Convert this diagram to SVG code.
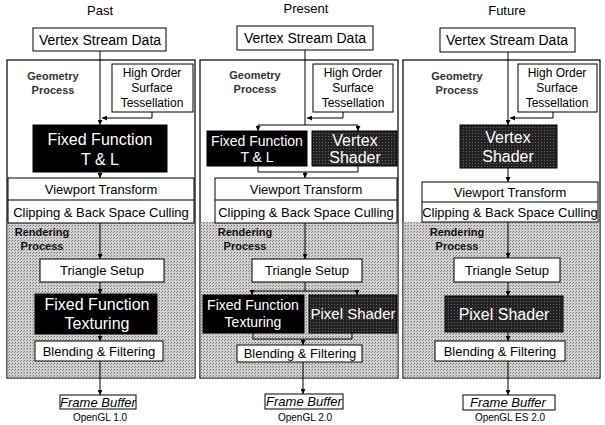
<svg xmlns="http://www.w3.org/2000/svg" width="605" height="425" viewBox="0 0 605 425">
<defs>
<marker id="ah" viewBox="0 0 6 6" refX="6" refY="3" markerWidth="5" markerHeight="5" orient="auto" markerUnits="userSpaceOnUse">
<path d="M0,0 L6,3 L0,6 Z" fill="#000"/>
</marker>
<pattern id="dots" width="3" height="3" patternUnits="userSpaceOnUse">
<rect width="3" height="3" fill="#d2d2d2"/>
<rect x="0" y="0" width="1" height="1" fill="#707070"/>
<rect x="2" y="1" width="1" height="1" fill="#909090"/>
</pattern>
<pattern id="dark" width="3" height="3" patternUnits="userSpaceOnUse">
<rect width="3" height="3" fill="#222"/>
<rect x="1" y="1" width="1" height="1" fill="#666"/>
</pattern>
</defs>
<style>
text{font-family:"Liberation Sans",Arial,sans-serif;text-anchor:middle;fill:#000}
.title{font-size:13px}
.box{fill:#fff;stroke:#000;stroke-width:1}
.outer{fill:#fff;stroke:#000;stroke-width:1.2}
.rend{fill:url(#dots);stroke:none}
.blk{fill:#000;stroke:#000}
.drk{fill:url(#dark);stroke:#000}
.t14{font-size:14px}
.t13{font-size:13px}
.t12{font-size:12px}
.wt{fill:#fff;font-size:15px}
.wt16{fill:#fff;font-size:16px}
.wt2{fill:#fff;font-size:14px}
.lbl{font-size:11px;font-weight:bold;fill:#333}
.lbl2{font-size:11px;font-weight:bold;fill:#111}
.fb{font-size:13px;font-style:italic}
.gl{font-size:10px}
.c{fill:none;stroke:#000;stroke-width:1}
.ca{fill:none;stroke:#000;stroke-width:1;marker-end:url(#ah)}
</style>

<!-- column backgrounds -->
<g id="past-frame">
<rect class="outer" x="7" y="60" width="188" height="318"/>
<rect class="rend" x="7.6" y="222" width="186.8" height="155.4"/>
<text class="title" x="100" y="15">Past</text>
<text class="lbl" x="53" y="80">Geometry</text>
<text class="lbl" x="53" y="94">Process</text>
<text class="lbl2" x="42" y="236">Rendering</text>
<text class="lbl2" x="42" y="250">Process</text>
<text class="gl" x="100" y="421">OpenGL 1.0</text>
</g>
<g id="present-frame">
<rect class="outer" x="200" y="60" width="198" height="318"/>
<rect class="rend" x="200.6" y="222" width="196.8" height="155.4"/>
<text class="title" x="306" y="13">Present</text>
<text class="lbl" x="255" y="79">Geometry</text>
<text class="lbl" x="255" y="93">Process</text>
<text class="lbl2" x="245" y="236">Rendering</text>
<text class="lbl2" x="245" y="250">Process</text>
<text class="gl" x="305" y="421">OpenGL 2.0</text>
</g>
<g id="future-frame">
<rect class="outer" x="403" y="60" width="197" height="318"/>
<rect class="rend" x="403.6" y="222" width="195.8" height="155.4"/>
<text class="title" x="507" y="15">Future</text>
<text class="lbl" x="457" y="80">Geometry</text>
<text class="lbl" x="457" y="94">Process</text>
<text class="lbl2" x="457" y="236">Rendering</text>
<text class="lbl2" x="457" y="250">Process</text>
<text class="gl" x="510" y="421">OpenGL ES 2.0</text>
</g>

<!-- connectors -->
<g id="connectors">
<!-- past -->
<path class="ca" d="M100,51 V125"/>
<path class="ca" d="M152,112 V118 H102"/>
<path class="ca" d="M100,172 V178"/>
<path class="ca" d="M100,223 V259"/>
<path class="ca" d="M100,282 V294"/>
<path class="ca" d="M100,334 V341"/>
<path class="ca" d="M100,361 V395"/>
<!-- present -->
<path class="c" d="M305,50 V125"/>
<path class="ca" d="M343,112 V118 H307"/>
<path class="c" d="M258,125 H358"/>
<path class="ca" d="M258,125 V131"/>
<path class="ca" d="M358,125 V131"/>
<path class="c" d="M258,166 V172 H358 V166"/>
<path class="ca" d="M305,172 V178"/>
<path class="ca" d="M305,223 V259"/>
<path class="c" d="M305,282 V291"/>
<path class="c" d="M252,291 H357"/>
<path class="ca" d="M252,291 V295"/>
<path class="ca" d="M357,291 V295"/>
<path class="c" d="M253,333 V339 H352 V333"/>
<path class="ca" d="M303,339 V345"/>
<path class="ca" d="M303,362 V394"/>
<!-- future -->
<path class="ca" d="M508,52 V125"/>
<path class="ca" d="M553,112 V118 H510"/>
<path class="ca" d="M508,168 V182"/>
<path class="ca" d="M508,222 V258"/>
<path class="ca" d="M508,282 V296"/>
<path class="ca" d="M508,332 V341"/>
<path class="ca" d="M508,361 V395"/>
</g>

<!-- past nodes -->
<g id="past-vsd"><rect class="box" x="33" y="28" width="133" height="23"/><text class="t14" x="100" y="45">Vertex Stream Data</text></g>
<g id="past-host"><rect class="box" x="112" y="64" width="81" height="48"/><text class="t12" x="152" y="77">High Order</text><text class="t12" x="152" y="92">Surface</text><text class="t12" x="152" y="107">Tessellation</text></g>
<g id="past-fftl"><rect class="blk" x="33" y="125" width="134" height="47"/><text class="wt16" x="100" y="145">Fixed Function</text><text class="wt16" x="100" y="165">T &amp; L</text></g>
<g id="past-vp"><rect class="box" x="8" y="178" width="186" height="45"/><line x1="8" y1="200" x2="194" y2="200" stroke="#000"/><text class="t13" x="101" y="194">Viewport Transform</text><text class="t13" x="101" y="217">Clipping &amp; Back Space Culling</text></g>
<g id="past-ts"><rect class="box" x="40" y="259" width="124" height="23"/><text class="t13" x="102" y="275">Triangle Setup</text></g>
<g id="past-fft"><rect class="blk" x="35" y="294" width="122" height="40"/><text class="wt16" x="97" y="310">Fixed Function</text><text class="wt16" x="97" y="329">Texturing</text></g>
<g id="past-bf"><rect class="box" x="35" y="341" width="128" height="20"/><text class="t13" x="99" y="356">Blending &amp; Filtering</text></g>
<g id="past-fb"><rect class="box" x="60" y="395" width="76" height="14"/><text class="fb" x="98" y="407">Frame Buffer</text></g>

<!-- present nodes -->
<g id="present-vsd"><rect class="box" x="237" y="26" width="136" height="24"/><text class="t14" x="305" y="43">Vertex Stream Data</text></g>
<g id="present-host"><rect class="box" x="313" y="64" width="80" height="48"/><text class="t12" x="353" y="77">High Order</text><text class="t12" x="353" y="92">Surface</text><text class="t12" x="353" y="107">Tessellation</text></g>
<g id="present-fftl"><rect class="blk" x="207" y="131" width="100" height="35"/><text class="wt2" x="257" y="146">Fixed Function</text><text class="wt2" x="257" y="162">T &amp; L</text></g>
<g id="present-vs"><rect class="drk" x="312" y="131" width="85" height="35"/><text class="wt16" x="355" y="146">Vertex</text><text class="wt16" x="355" y="163">Shader</text></g>
<g id="present-vp"><rect class="box" x="215" y="178" width="182" height="45"/><line x1="215" y1="200" x2="397" y2="200" stroke="#000"/><text class="t13" x="306" y="194">Viewport Transform</text><text class="t13" x="306" y="217">Clipping &amp; Back Space Culling</text></g>
<g id="present-ts"><rect class="box" x="252" y="259" width="110" height="23"/><text class="t13" x="307" y="275">Triangle Setup</text></g>
<g id="present-fft"><rect class="blk" x="203" y="295" width="101" height="38"/><text class="wt2" x="253" y="310">Fixed Function</text><text class="wt2" x="253" y="327">Texturing</text></g>
<g id="present-ps"><rect class="drk" x="309" y="295" width="88" height="38"/><text class="wt" x="353" y="319">Pixel Shader</text></g>
<g id="present-bf"><rect class="box" x="237" y="345" width="125" height="17"/><text class="t13" x="300" y="358">Blending &amp; Filtering</text></g>
<g id="present-fb"><rect class="box" x="265" y="394" width="78" height="15"/><text class="fb" x="304" y="406">Frame Buffer</text></g>

<!-- future nodes -->
<g id="future-vsd"><rect class="box" x="440" y="28" width="135" height="24"/><text class="t14" x="507" y="45">Vertex Stream Data</text></g>
<g id="future-host"><rect class="box" x="518" y="64" width="79" height="48"/><text class="t12" x="557" y="77">High Order</text><text class="t12" x="557" y="92">Surface</text><text class="t12" x="557" y="107">Tessellation</text></g>
<g id="future-vs"><rect class="drk" x="460" y="125" width="97" height="43"/><text class="wt16" x="508" y="143">Vertex</text><text class="wt16" x="508" y="162">Shader</text></g>
<g id="future-vp"><rect class="box" x="422" y="182" width="176" height="40"/><line x1="422" y1="202" x2="598" y2="202" stroke="#000"/><text class="t13" x="510" y="197">Viewport Transform</text><text class="t13" x="510" y="217">Clipping &amp; Back Space Culling</text></g>
<g id="future-ts"><rect class="box" x="454" y="258" width="106" height="24"/><text class="t13" x="507" y="275">Triangle Setup</text></g>
<g id="future-ps"><rect class="drk" x="445" y="296" width="118" height="36"/><text class="wt16" x="504" y="320">Pixel Shader</text></g>
<g id="future-bf"><rect class="box" x="435" y="341" width="130" height="20"/><text class="t13" x="500" y="356">Blending &amp; Filtering</text></g>
<g id="future-fb"><rect class="box" x="463" y="395" width="92" height="15"/><text class="fb" x="508" y="407">Frame Buffer</text></g>
</svg>
